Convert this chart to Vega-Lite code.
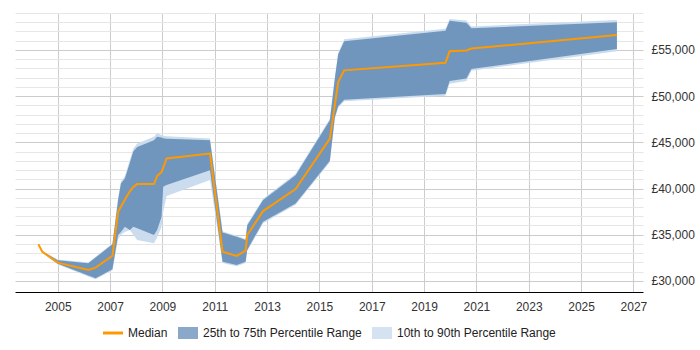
{
  "$schema": "https://vega.github.io/schema/vega-lite/v6.json",
  "width": 628,
  "height": 279,
  "autosize": {"type": "none"},
  "padding": {"left": 15, "top": 13, "right": 57, "bottom": 58},
  "background": "white",
  "config": {
    "view": {"stroke": null},
    "font": "Liberation Sans",
    "axis": {"title": null, "labelFont": "Liberation Sans", "labelFontSize": 12, "labelColor": "#333333", "ticks": false}
  },
  "data": {
    "values": [
      {"date": "2004-04-05", "median": 33960, "p25": 33960, "p75": 33960, "p10": 33960, "p90": 33960},
      {"date": "2004-05-30", "median": 33160, "p25": 33100, "p75": 33200, "p10": 33050, "p90": 33250},
      {"date": "2005-01-01", "median": 31980, "p25": 31850, "p75": 32250, "p10": 31780, "p90": 32320},
      {"date": "2006-03-03", "median": 31190, "p25": 30580, "p75": 31910, "p10": 30480, "p90": 32000},
      {"date": "2006-06-13", "median": 31440, "p25": 30290, "p75": 32530, "p10": 30180, "p90": 32620},
      {"date": "2007-02-03", "median": 32730, "p25": 31260, "p75": 33960, "p10": 31150, "p90": 34060},
      {"date": "2007-04-23", "median": 37480, "p25": 34970, "p75": 38750, "p10": 34500, "p90": 38950},
      {"date": "2007-06-02", "median": 38030, "p25": 35300, "p75": 40550, "p10": 35000, "p90": 40750},
      {"date": "2007-07-27", "median": 38820, "p25": 35860, "p75": 41090, "p10": 35300, "p90": 41350},
      {"date": "2007-10-04", "median": 39700, "p25": 35510, "p75": 42800, "p10": 35500, "p90": 43100},
      {"date": "2007-11-21", "median": 40180, "p25": 35860, "p75": 44000, "p10": 35000, "p90": 44300},
      {"date": "2008-01-15", "median": 40480, "p25": 35700, "p75": 44500, "p10": 34430, "p90": 44870},
      {"date": "2008-09-05", "median": 40480, "p25": 34970, "p75": 45230, "p10": 34070, "p90": 45600},
      {"date": "2008-10-19", "median": 41340, "p25": 35500, "p75": 45600, "p10": 34700, "p90": 46020},
      {"date": "2008-12-20", "median": 41800, "p25": 36950, "p75": 45520, "p10": 35860, "p90": 45770},
      {"date": "2009-01-12", "median": 42260, "p25": 40180, "p75": 45450, "p10": 37500, "p90": 45700},
      {"date": "2009-02-28", "median": 43250, "p25": 40370, "p75": 45400, "p10": 39200, "p90": 45660},
      {"date": "2010-10-27", "median": 43790, "p25": 41990, "p75": 45230, "p10": 40910, "p90": 45410},
      {"date": "2011-04-20", "median": 33160, "p25": 32080, "p75": 35240, "p10": 31950, "p90": 35380},
      {"date": "2011-11-03", "median": 32700, "p25": 31730, "p75": 34780, "p10": 31600, "p90": 34900},
      {"date": "2012-03-07", "median": 33270, "p25": 32080, "p75": 34430, "p10": 31950, "p90": 34550},
      {"date": "2012-03-29", "median": 34970, "p25": 33350, "p75": 36000, "p10": 33200, "p90": 36150},
      {"date": "2012-11-06", "median": 37560, "p25": 36400, "p75": 38750, "p10": 36250, "p90": 38900},
      {"date": "2014-02-03", "median": 39940, "p25": 38390, "p75": 41450, "p10": 38250, "p90": 41600},
      {"date": "2015-05-27", "median": 45410, "p25": 43000, "p75": 47390, "p10": 42850, "p90": 47550},
      {"date": "2015-08-04", "median": 49010, "p25": 47700, "p75": 51880, "p10": 47550, "p90": 52050},
      {"date": "2015-09-20", "median": 51520, "p25": 48900, "p75": 54500, "p10": 48750, "p90": 54700},
      {"date": "2015-12-13", "median": 52790, "p25": 49620, "p75": 55950, "p10": 49450, "p90": 56150},
      {"date": "2019-10-27", "median": 53620, "p25": 50230, "p75": 57080, "p10": 50050, "p90": 57300},
      {"date": "2019-12-24", "median": 54870, "p25": 51630, "p75": 58150, "p10": 51350, "p90": 58350},
      {"date": "2020-08-14", "median": 54950, "p25": 51900, "p75": 57950, "p10": 51650, "p90": 58200},
      {"date": "2020-10-23", "median": 55150, "p25": 52950, "p75": 57350, "p10": 52750, "p90": 57550},
      {"date": "2026-05-16", "median": 56620, "p25": 55100, "p75": 58010, "p10": 54870, "p90": 58250}
    ]
  },
  "encoding": {
    "x": {
      "field": "date",
      "type": "temporal",
      "scale": {
        "type": "utc",
        "domain": [
          {"year": 2003, "month": 5, "date": 15, "utc": true},
          {"year": 2027, "month": 5, "date": 15, "utc": true}
        ]
      },
      "axis": {
        "orient": "bottom",
        "values": [
          {"year": 2005, "utc": true}, {"year": 2007, "utc": true}, {"year": 2009, "utc": true},
          {"year": 2011, "utc": true}, {"year": 2013, "utc": true}, {"year": 2015, "utc": true},
          {"year": 2017, "utc": true}, {"year": 2019, "utc": true}, {"year": 2021, "utc": true},
          {"year": 2023, "utc": true}, {"year": 2025, "utc": true}, {"year": 2027, "utc": true}
        ],
        "tickCount": 100,
        "format": "%Y",
        "grid": true,
        "gridColor": "#cccccc",
        "domain": true,
        "domainColor": "#000000",
        "domainWidth": 1,
        "labelPadding": 9,
        "labelOverlap": false
      }
    }
  },
  "layer": [
    {
      "mark": {"type": "area"},
      "encoding": {
        "y": {
          "field": "p10",
          "type": "quantitative",
          "scale": {"domain": [28800, 59000], "nice": false, "zero": false},
          "axis": {
            "orient": "right",
            "values": [30000, 31000, 32000, 33000, 34000, 35000, 36000, 37000, 38000, 39000, 40000, 41000, 42000, 43000, 44000, 45000, 46000, 47000, 48000, 49000, 50000, 51000, 52000, 53000, 54000, 55000, 56000, 57000, 58000, 59000],
            "tickCount": 100,
            "labelExpr": "datum.value % 5000 === 0 ? '£' + format(datum.value, ',') : ''",
            "labelOverlap": false,
            "labelBound": false,
            "labelPadding": 8,
            "domain": false,
            "grid": true,
            "gridColor": {"condition": {"test": "datum.value % 5000 === 0", "value": "#cccccc"}, "value": "#e6e6e6"}
          }
        },
        "y2": {"field": "p90"},
        "color": {
          "datum": "10th to 90th Percentile Range",
          "scale": {
            "domain": ["Median", "25th to 75th Percentile Range", "10th to 90th Percentile Range"],
            "range": ["#ff9900", "#7096be", "#cbdcee"]
          },
          "legend": {
            "title": null,
            "orient": "none",
            "direction": "horizontal",
            "legendX": 88,
            "legendY": 310,
            "padding": 0,
            "columnPadding": 10,
            "symbolSize": 400,
            "symbolStrokeWidth": 0,
            "symbolType": {"expr": "datum.value === 'Median' ? 'M-1,-0.15L1,-0.15L1,0.15L-1,0.15Z' : 'M-1,-0.6L1,-0.6L1,0.6L-1,0.6Z'"},
            "symbolOpacity": {"expr": "datum.value === 'Median' ? 1 : 0.82"},
            "labelOffset": 5,
            "labelFont": "Liberation Sans",
            "labelFontSize": 12,
            "labelColor": "#222222",
            "labelLimit": 400
          }
        }
      }
    },
    {
      "mark": {"type": "area"},
      "encoding": {
        "y": {"field": "p25", "type": "quantitative"},
        "y2": {"field": "p75"},
        "color": {"datum": "25th to 75th Percentile Range"}
      }
    },
    {
      "mark": {"type": "line", "strokeWidth": 2},
      "encoding": {
        "y": {"field": "median", "type": "quantitative"},
        "color": {"datum": "Median"}
      }
    }
  ]
}
